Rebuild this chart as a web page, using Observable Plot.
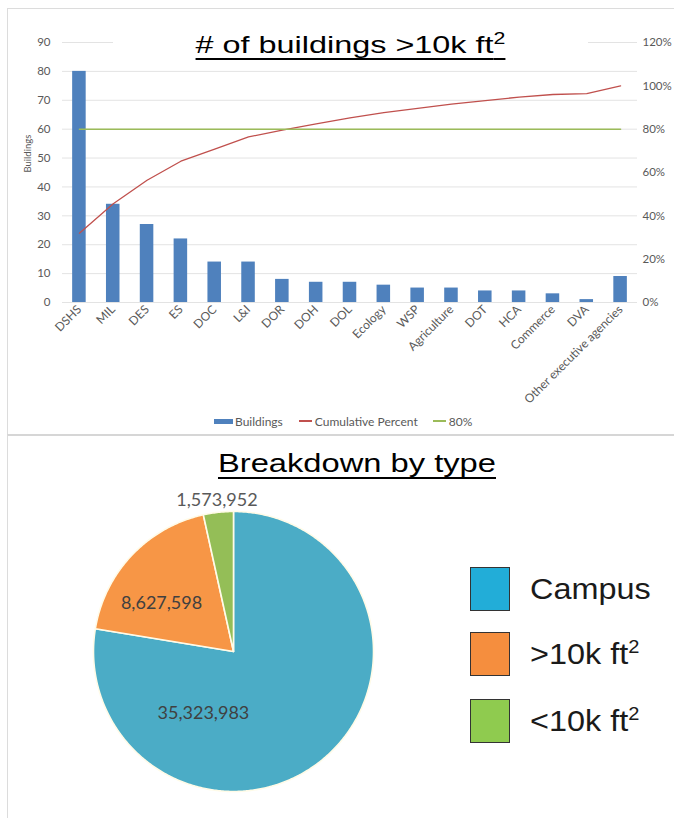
<!DOCTYPE html>
<html><head><meta charset="utf-8">
<script src="https://cdn.jsdelivr.net/npm/d3@7"></script>
<script src="https://cdn.jsdelivr.net/npm/@observablehq/plot@0.6"></script>
<style>
body{margin:0;background:#fff;}
#page{position:relative;width:674px;height:818px;overflow:hidden;background:#fff;font-family:Lato,sans-serif;}
.abs{position:absolute;}
#panelTop{left:7px;top:8px;width:720px;height:426px;border-top:1px solid #dcdcdc;border-left:1px solid #dcdcdc;}
#panelBottom{left:7px;top:434px;width:720px;height:400px;border-top:2px solid #d6d6d6;border-left:1px solid #dcdcdc;}
.title{font-family:"Liberation Sans",Arial,sans-serif;color:#000;white-space:nowrap;text-decoration:underline;text-decoration-thickness:2px;text-underline-offset:5px;transform-origin:center;}
.title sup{font-size:0.66em;line-height:0;vertical-align:0.55em;}
#title1box{left:113px;top:28px;width:475px;height:36px;background:#fff;}
#title1{left:0;top:0;width:475px;text-align:center;font-size:24px;line-height:34px;}
#title2{left:20px;width:674px;top:445px;text-align:center;font-size:26px;line-height:36px;}
#legend1{left:214px;top:412px;height:18px;display:flex;align-items:center;font-size:12px;color:#595959;white-space:nowrap;}
.sw{display:inline-block;}
.lg{position:absolute;font-family:"Liberation Sans",Arial,sans-serif;font-size:30px;color:#1a1a1a;white-space:nowrap;transform:scaleX(1.08);transform-origin:left;line-height:36px;}
.lg sup{font-size:0.62em;line-height:0;vertical-align:0.6em;}
.sq{position:absolute;width:38px;height:42px;border:1.5px solid #333;}
</style></head><body><div id="page">
<div id="panelTop" class="abs"></div>
<div id="panelBottom" class="abs"></div>
</div>
<script>
// ---- data: bar/pareto chart ----
const agencies = ["DSHS","MIL","DES","ES","DOC","L&I","DOR","DOH","DOL","Ecology","WSP","Agriculture","DOT","HCA","Commerce","DVA","Other executive agencies"];
const buildings = [80,34,27,22,14,14,8,7,7,6,5,5,4,4,3,1,9];
const cumulativePercent = [32,45.6,56.4,65.2,70.8,76.4,79.6,82.4,85.2,87.6,89.6,91.6,93.2,94.8,96,96.4,100];
const thresholdPercent = 80;
const leftTicks = [0,10,20,30,40,50,60,70,80,90];
const rightTicks = [0,20,40,60,80,100,120];
// ---- data: pie chart ----
const types = ["Campus", ">10k ft²", "<10k ft²"];
const squareFeet = [35323983, 8627598, 1573952];
const pieLabels = ["35,323,983", "8,627,598", "1,573,952"];

const page = document.getElementById("page");
const k = 90 / 120; // left-axis units per percent

const barData = agencies.map((a, i) => ({agency: a, buildings: buildings[i], cum: cumulativePercent[i], th: thresholdPercent}));

const barChart = Plot.plot({
  width: 674, height: 435,
  marginLeft: 62, marginRight: 37, marginTop: 42, marginBottom: 133,
  style: {fontFamily: "Lato, sans-serif", fontSize: "11px", color: "#595959", background: "transparent", overflow: "visible"},
  x: {domain: agencies, paddingInner: 0.6, paddingOuter: 0.3, round: false},
  y: {domain: [0, 90]},
  marks: [
    Plot.gridY(leftTicks, {stroke: "#e3e3e3", strokeOpacity: 1}),
    Plot.axisY(leftTicks, {anchor: "left", tickSize: 0, tickPadding: 12, label: null, fontSize: 11.5}),
    Plot.text(["Buildings"], {frameAnchor: "left", dx: -35, rotate: -90, fontSize: 9.5, fill: "#595959"}),
    Plot.axisY(rightTicks.map(p => p * k), {anchor: "right", tickSize: 0, tickPadding: 5, textAnchor: "start", tickFormat: d => Math.round(d / k) + "%", label: null, fontSize: 11.5}),
    Plot.axisX({tickRotate: -45, tickSize: 0, tickPadding: 5, label: null, fontSize: 12}),
    Plot.barY(barData, {x: "agency", y: "buildings", fill: "#4F81BD"}),
    Plot.line(barData, {x: "agency", y: d => d.cum * k, stroke: "#C0504D", strokeWidth: 1.3}),
    Plot.line(barData, {x: "agency", y: d => d.th * k, stroke: "#9BBB59", strokeWidth: 1.5})
  ]
});
barChart.style.position = "absolute"; barChart.style.left = "0px"; barChart.style.top = "0px";
page.appendChild(barChart);

// title 1 (white box covers top gridline like the Excel chart title)
const t1box = document.createElement("div");
t1box.id = "title1box"; t1box.className = "abs";
t1box.innerHTML = '<div id="title1" class="abs title"># of buildings &gt;10k ft<sup>2</sup></div>';
page.appendChild(t1box);

// legend 1
const lg1 = document.createElement("div");
lg1.id = "legend1"; lg1.className = "abs";
lg1.innerHTML =
  '<span class="sw" style="width:19px;height:5px;background:#4F81BD;margin-right:2px"></span><span>Buildings</span>' +
  '<span class="sw" style="width:13px;height:1.5px;background:#C0504D;margin:0 3px 0 16px"></span><span>Cumulative Percent</span>' +
  '<span class="sw" style="width:13px;height:1.5px;background:#9BBB59;margin:0 3px 0 15px"></span><span>80%</span>';
page.appendChild(lg1);

// title 2
const t2 = document.createElement("div");
t2.id = "title2"; t2.className = "abs title";
t2.innerHTML = 'Breakdown by type';
page.appendChild(t2);

// ---- pie via Plot.line (filled polygons) on linear x/y scales ----
const R = 140, cx = 233, cy = 651, svgTop = 438, svgH = 380;
const arcs = d3.pie().sort(null).value(d => d)(squareFeet);
const piePts = [];
arcs.forEach((a, i) => {
  piePts.push({type: types[i], x: 0, y: 0});
  const n = Math.max(2, Math.ceil((a.endAngle - a.startAngle) / 0.01));
  for (let j = 0; j <= n; j++) {
    const t = a.startAngle + (a.endAngle - a.startAngle) * j / n;
    piePts.push({type: types[i], x: Math.sin(t), y: Math.cos(t)});
  }
  piePts.push({type: types[i], x: 0, y: 0});
});
// label placement: radius fraction and angle (deg, clockwise from top); null = slice mid-angle
const labelPlace = [{r: 0.49, a: 206}, {r: 0.62, a: 304}, {r: 1.09, a: null}];
const labelData = arcs.map((a, i) => {
  const ang = labelPlace[i].a == null ? (a.startAngle + a.endAngle) / 2 : labelPlace[i].a * Math.PI / 180;
  return {label: pieLabels[i], x: labelPlace[i].r * Math.sin(ang), y: labelPlace[i].r * Math.cos(ang), outside: labelPlace[i].r > 1};
});
const pieChart = Plot.plot({
  width: 674, height: svgH, margin: 0,
  style: {background: "transparent", overflow: "visible", fontFamily: "Lato, sans-serif"},
  x: {domain: [-cx / R, (674 - cx) / R], axis: null},
  y: {domain: [-(svgTop + svgH - cy) / R, (cy - svgTop) / R], axis: null},
  color: {domain: types, range: ["#4BACC6", "#F79646", "#94BE57"]},
  marks: [
    Plot.line(piePts, {x: "x", y: "y", z: "type", fill: "type", stroke: "#fffbe8", strokeWidth: 1.6, strokeLinejoin: "round", curve: "linear"}),
    Plot.text(labelData, {x: "x", y: "y", text: "label", fontSize: 18, fill: d => d.outside ? "#595959" : "#404040"})
  ]
});
pieChart.style.position = "absolute"; pieChart.style.left = "0px"; pieChart.style.top = svgTop + "px";
page.appendChild(pieChart);

// legend 2
const legendColors = ["#22ADD8", "#F58E3E", "#8FCB4F"];
const legendLabels = ["Campus", "&gt;10k ft<sup>2</sup>", "&lt;10k ft<sup>2</sup>"];
const sqTops = [567, 632, 699];
types.forEach((t, i) => {
  const sq = document.createElement("div");
  sq.className = "sq"; sq.style.left = "470px"; sq.style.top = sqTops[i] + "px"; sq.style.background = legendColors[i];
  page.appendChild(sq);
  const lb = document.createElement("div");
  lb.className = "lg"; lb.style.left = "530px"; lb.style.top = (sqTops[i] + 4) + "px";
  lb.innerHTML = legendLabels[i];
  page.appendChild(lb);
});

// stretch titles horizontally to the reference text widths
function fitWidth(el, target) {
  const span = document.createElement("span");
  span.innerHTML = el.innerHTML; span.style.cssText = "position:absolute;visibility:hidden;white-space:nowrap;font-family:'Liberation Sans',Arial,sans-serif;font-size:" + getComputedStyle(el).fontSize;
  page.appendChild(span);
  const tw = span.getBoundingClientRect().width;
  span.remove();
  el.style.transform = "scaleX(" + (target / tw) + ")";
}
fitWidth(document.getElementById("title1"), 313);
fitWidth(t2, 278);
</script>
</body></html>
